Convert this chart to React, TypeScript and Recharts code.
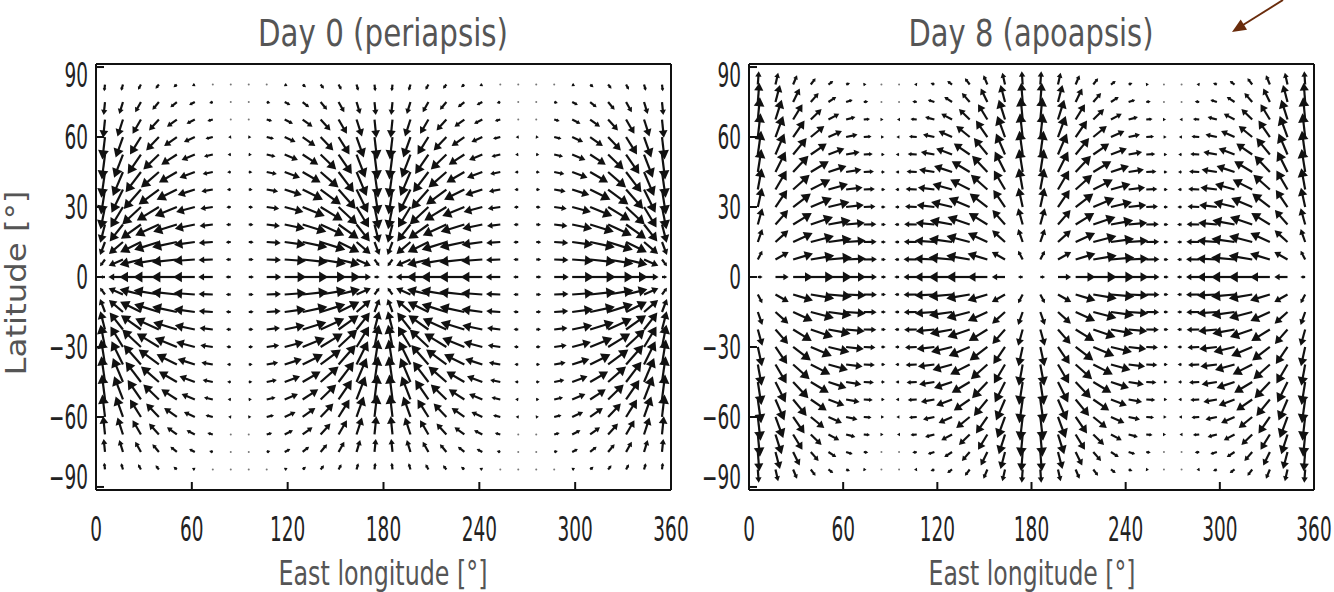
import React from "react";
import { ScatterChart, Scatter, XAxis, YAxis } from "recharts";

// axis ticks
const lonTicks = [0, 60, 120, 180, 240, 300, 360];
const latTicks = [-90, -60, -30, 0, 30, 60, 90];

// arrow grid (32 longitudes x 23 latitudes)
const gridLon = [
  5.625, 16.875, 28.125, 39.375, 50.625, 61.875, 73.125, 84.375, 95.625, 106.875, 118.125, 129.375, 140.625,
  151.875, 163.125, 174.375, 185.625, 196.875, 208.125, 219.375, 230.625, 241.875, 253.125, 264.375, 275.625,
  286.875, 298.125, 309.375, 320.625, 331.875, 343.125, 354.375,
];
const gridLat = [
  -82.5, -75, -67.5, -60, -52.5, -45, -37.5, -30, -22.5, -15, -7.5, 0, 7.5, 15, 22.5, 30, 37.5, 45, 52.5, 60,
  67.5, 75, 82.5,
];

// Both maps are mirror-symmetric about the equator and about the 90/270 meridians.
// Day 0: arrows point toward the sub-points (0 and 180 E)
const day0East = [
  [-0.2, -0.56, -0.83, -0.98, -0.98, -0.83, -0.56, -0.2],
  [-0.19, -0.55, -0.82, -0.97, -0.97, -0.82, -0.55, -0.19],
  [-0.19, -0.54, -0.8, -0.95, -0.95, -0.8, -0.54, -0.19],
  [-0.18, -0.51, -0.77, -0.91, -0.91, -0.77, -0.51, -0.18],
  [-0.17, -0.48, -0.72, -0.85, -0.85, -0.72, -0.48, -0.17],
  [-0.15, -0.44, -0.66, -0.78, -0.78, -0.66, -0.44, -0.15],
  [-0.14, -0.39, -0.59, -0.69, -0.69, -0.59, -0.39, -0.14],
  [-0.12, -0.34, -0.51, -0.6, -0.6, -0.51, -0.34, -0.12],
  [-0.1, -0.28, -0.42, -0.49, -0.49, -0.42, -0.28, -0.1],
  [-0.07, -0.21, -0.32, -0.38, -0.38, -0.32, -0.21, -0.07],
  [-0.05, -0.14, -0.22, -0.25, -0.25, -0.22, -0.14, -0.05],
  [-0.03, -0.07, -0.11, -0.13, -0.13, -0.11, -0.07, -0.03],
];
const day0North = [
  [0, 0, 0, 0, 0, 0, 0, 0],
  [-0.26, -0.24, -0.2, -0.16, -0.1, -0.06, -0.02, 0],
  [-0.5, -0.46, -0.39, -0.3, -0.2, -0.11, -0.04, -0.01],
  [-0.7, -0.65, -0.55, -0.42, -0.28, -0.16, -0.06, -0.01],
  [-0.86, -0.79, -0.67, -0.52, -0.35, -0.19, -0.07, -0.01],
  [-0.96, -0.89, -0.75, -0.58, -0.39, -0.21, -0.08, -0.01],
  [-0.99, -0.92, -0.78, -0.6, -0.4, -0.22, -0.08, -0.01],
  [-0.96, -0.89, -0.75, -0.58, -0.39, -0.21, -0.08, -0.01],
  [-0.86, -0.79, -0.67, -0.52, -0.35, -0.19, -0.07, -0.01],
  [-0.7, -0.65, -0.55, -0.42, -0.28, -0.16, -0.06, -0.01],
  [-0.5, -0.46, -0.39, -0.3, -0.2, -0.11, -0.04, -0.01],
  [-0.26, -0.24, -0.2, -0.16, -0.1, -0.06, -0.02, 0],
];
// Day 8: arrows point away from the sub-points, strongest at high latitudes
const day8East = [
  [0.16, 0.44, 0.66, 0.78, 0.78, 0.66, 0.44, 0.16],
  [0.15, 0.44, 0.66, 0.78, 0.78, 0.66, 0.44, 0.15],
  [0.15, 0.43, 0.65, 0.77, 0.77, 0.65, 0.43, 0.15],
  [0.15, 0.42, 0.62, 0.74, 0.74, 0.62, 0.42, 0.15],
  [0.14, 0.39, 0.59, 0.7, 0.7, 0.59, 0.39, 0.14],
  [0.13, 0.37, 0.55, 0.65, 0.65, 0.55, 0.37, 0.13],
  [0.12, 0.34, 0.51, 0.6, 0.6, 0.51, 0.34, 0.12],
  [0.11, 0.3, 0.45, 0.53, 0.53, 0.45, 0.3, 0.11],
  [0.09, 0.26, 0.38, 0.45, 0.45, 0.38, 0.26, 0.09],
  [0.07, 0.21, 0.31, 0.36, 0.36, 0.31, 0.21, 0.07],
  [0.05, 0.15, 0.22, 0.26, 0.26, 0.22, 0.15, 0.05],
  [0.03, 0.09, 0.13, 0.16, 0.16, 0.13, 0.09, 0.03],
];
const day8North = [
  [0, 0, 0, 0, 0, 0, 0, 0],
  [0.29, 0.25, 0.2, 0.13, 0.07, 0.03, 0.01, 0],
  [0.43, 0.39, 0.3, 0.2, 0.11, 0.05, 0.01, 0],
  [0.54, 0.48, 0.38, 0.25, 0.14, 0.06, 0.01, 0],
  [0.64, 0.57, 0.45, 0.3, 0.17, 0.07, 0.02, 0],
  [0.71, 0.63, 0.49, 0.33, 0.18, 0.07, 0.02, 0],
  [0.77, 0.68, 0.54, 0.36, 0.2, 0.08, 0.02, 0],
  [0.79, 0.7, 0.55, 0.37, 0.2, 0.08, 0.02, 0],
  [0.79, 0.7, 0.55, 0.37, 0.2, 0.08, 0.02, 0],
  [0.74, 0.66, 0.51, 0.35, 0.19, 0.08, 0.02, 0],
  [0.64, 0.57, 0.45, 0.3, 0.17, 0.07, 0.02, 0],
  [0.44, 0.39, 0.31, 0.21, 0.12, 0.05, 0.01, 0],
];

type Pt = { lon: number; lat: number; u: number; v: number };

function buildField(east: number[][], north: number[][]): Pt[] {
  const pts: Pt[] = [];
  gridLat.forEach((lat) => {
    const row = Math.round(Math.abs(lat) / 7.5);
    const ns = lat < 0 ? -1 : 1;
    gridLon.forEach((lon, k) => {
      const q = k % 16;
      const col = q < 8 ? q : 15 - q;
      const ew = q < 8 ? 1 : -1;
      pts.push({ lon, lat, u: ew * east[row][col], v: ns * north[row][col] });
    });
  });
  return pts;
}

const INK = "#111";
const GREY = "#555";
const FONT = "DejaVu Sans";

// each panel is auto-scaled on its own; arrows start at their grid point
function makeArrow(scalePx: number) {
  return function Arrow(props: any) {
    const { cx, cy, payload } = props;
    if (cx == null || cy == null) return null;
    const dx = payload.u * scalePx;
    const dy = -payload.v * scalePx;
    const len = Math.hypot(dx, dy);
    if (len < 2) return <circle cx={cx} cy={cy} r={1} fill="#777" />;
    const ux = dx / len;
    const uy = dy / len;
    const x1 = cx + dx;
    const y1 = cy + dy;
    const h = Math.min(9, Math.max(3, len * 0.4));
    const w = h * 0.6;
    const bx = x1 - ux * h;
    const by = y1 - uy * h;
    const head = `${x1},${y1} ${bx - uy * w},${by + ux * w} ${bx + uy * w},${by - ux * w}`;
    return (
      <g>
        <line x1={cx} y1={cy} x2={bx + ux} y2={by + uy} stroke={INK} strokeWidth={2.2} />
        <polygon points={head} fill={INK} />
      </g>
    );
  };
}

const fmt = (v: number) => (v < 0 ? `\u2212${Math.abs(v)}` : `${v}`);

function XTick(props: any) {
  const { x, y, payload } = props;
  return (
    <text transform={`translate(${x},${y}) scale(0.56,1)`} textAnchor="middle" fontFamily={FONT} fontSize={33} fill="#222">
      {fmt(payload.value)}
    </text>
  );
}

function YTick(props: any) {
  const { x, y, payload } = props;
  // the end labels sit a little inside the frame in the original
  const nudge = payload.value === 90 ? 8 : payload.value === -90 ? -10 : 0;
  return (
    <text
      transform={`translate(${x},${y + 12 + nudge}) scale(0.56,1)`}
      textAnchor="end"
      fontFamily={FONT}
      fontSize={33}
      fill="#222"
    >
      {fmt(payload.value)}
    </text>
  );
}

type PanelProps = { data: Pt[]; width: number; yAxisWidth: number; rightMargin: number; scalePx: number };

function FieldPanel({ data, width, yAxisWidth, rightMargin, scalePx }: PanelProps) {
  const frame = { stroke: "#111", strokeWidth: 2 };
  const Arrow = makeArrow(scalePx);
  return (
    <ScatterChart width={width} height={592} margin={{ top: 63, right: rightMargin, bottom: 0, left: 0 }}>
      <XAxis
        type="number"
        dataKey="lon"
        domain={[0, 360]}
        ticks={lonTicks}
        interval={0}
        allowDataOverflow
        height={102}
        tickSize={-8}
        tickMargin={59}
        axisLine={frame}
        tickLine={frame}
        tick={<XTick />}
      />
      <XAxis
        xAxisId="top"
        orientation="top"
        type="number"
        domain={[0, 360]}
        ticks={lonTicks}
        interval={0}
        allowDataOverflow
        height={1}
        tickSize={-8}
        axisLine={frame}
        tickLine={frame}
        tick={false}
      />
      <YAxis
        type="number"
        dataKey="lat"
        domain={[-91.3, 91.3]}
        ticks={latTicks}
        interval={0}
        allowDataOverflow
        width={yAxisWidth}
        tickSize={-8}
        tickMargin={16}
        axisLine={frame}
        tickLine={frame}
        tick={<YTick />}
      />
      <YAxis
        yAxisId="right"
        orientation="right"
        type="number"
        domain={[-91.3, 91.3]}
        ticks={latTicks}
        interval={0}
        allowDataOverflow
        width={1}
        tickSize={-8}
        axisLine={frame}
        tickLine={frame}
        tick={false}
      />
      <Scatter data={data} isAnimationActive={false} shape={<Arrow />} />
    </ScatterChart>
  );
}

export default function App() {
  const day0 = buildField(day0East, day0North);
  const day8 = buildField(day8East, day8North);
  return (
    <div style={{ position: "absolute", left: 0, top: 0, width: 1334, height: 592, background: "#fff", overflow: "hidden" }}>
      <div style={{ position: "absolute", left: 0, top: 0 }}>
        <FieldPanel data={day0} width={690} yAxisWidth={96} rightMargin={18} scalePx={26} />
      </div>
      <div style={{ position: "absolute", left: 680, top: 0 }}>
        <FieldPanel data={day8} width={654} yAxisWidth={69} rightMargin={19} scalePx={30} />
      </div>
      <svg width={1334} height={592} style={{ position: "absolute", left: 0, top: 0, pointerEvents: "none" }}>
        <g fontFamily={FONT} fill={GREY}>
          <text x={383} y={46} textAnchor="middle" fontSize={37} textLength={250} lengthAdjust="spacingAndGlyphs">
            Day 0 (periapsis)
          </text>
          <text x={1031} y={46} textAnchor="middle" fontSize={37} textLength={245} lengthAdjust="spacingAndGlyphs">
            Day 8 (apoapsis)
          </text>
          <text x={383} y={585} textAnchor="middle" fontSize={33} textLength={209} lengthAdjust="spacingAndGlyphs">
            East longitude [°]
          </text>
          <text x={1032} y={585} textAnchor="middle" fontSize={33} textLength={207} lengthAdjust="spacingAndGlyphs">
            East longitude [°]
          </text>
          <text
            transform="translate(26,283) rotate(-90)"
            textAnchor="middle"
            fontSize={28}
            textLength={185}
            lengthAdjust="spacingAndGlyphs"
          >
            Latitude [°]
          </text>
        </g>
        <line x1={1283} y1={0} x2={1243} y2={25} stroke="#6a2c0c" strokeWidth={2} />
        <polygon points="1232,32 1247,29.7 1240.7,19.5" fill="#6a2c0c" />
      </svg>
    </div>
  );
}
